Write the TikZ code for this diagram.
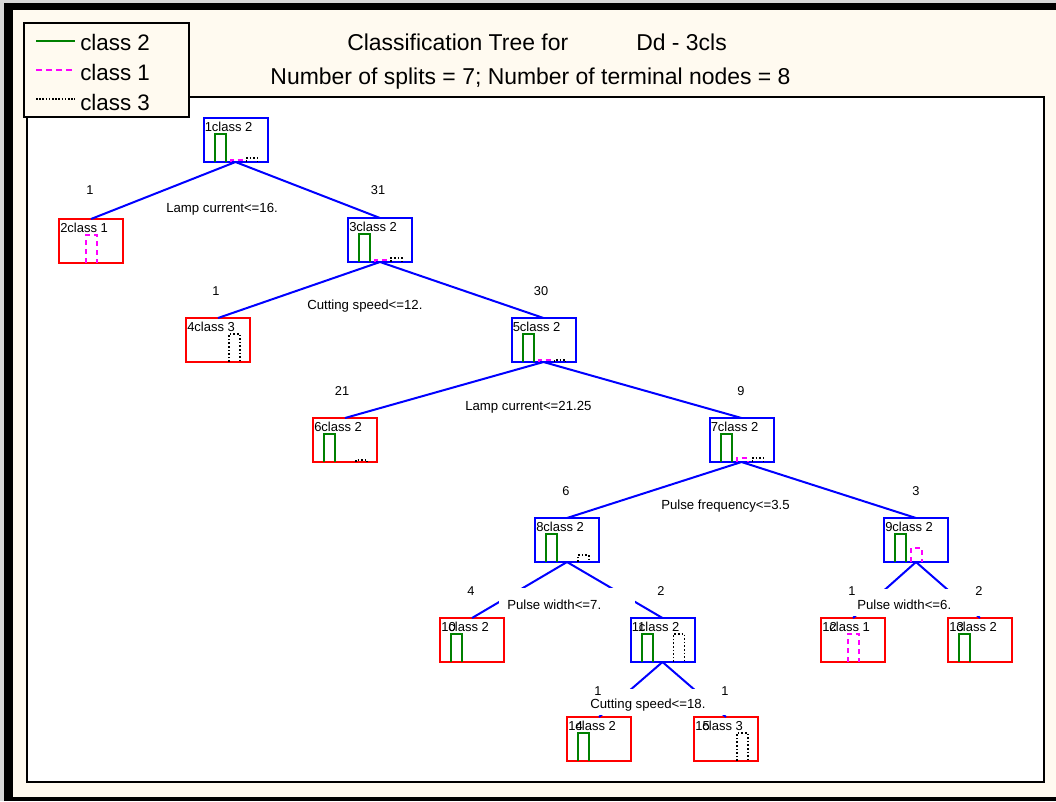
\documentclass[tikz,border=0pt]{standalone}
\usepackage{fontspec}
\setmainfont{Liberation Sans}
\usetikzlibrary{calc}

\definecolor{cream}{RGB}{255,250,240}
\definecolor{frame}{RGB}{215,215,215}
\definecolor{cgreen}{RGB}{0,128,0}
\definecolor{cmag}{RGB}{255,0,255}

\tikzset{
  tbox/.style={draw=#1, line width=1.5pt, minimum width=48pt, minimum height=33pt,
               inner sep=0pt, outer sep=0pt, fill=white},
  numtext/.style={anchor=base west, inner sep=0pt, font=\fontsize{9.75}{11}\selectfont},
  edge/.style={draw=blue, line width=1.5pt},
  bargreen/.style={draw=cgreen, line width=1.5pt},
  barmag/.style={draw=cmag, line width=1.5pt, dash pattern=on 3.75pt off 3pt},
  barblack/.style={draw=black, line width=1.2pt, dash pattern=on 1.2pt off 1.5pt},
  cnt/.style={inner sep=0pt, font=\fontsize{9.6}{10}\selectfont},
  cond/.style={anchor=west, inner sep=0pt, font=\fontsize{9.9}{10}\selectfont},
  legtext/.style={anchor=base west, inner sep=0pt, font=\fontsize{16.8}{18}\selectfont},
  titletext/.style={inner sep=0pt, font=\fontsize{17.2}{18}\selectfont},
}

% tree node: name, centre x, top y, colour, number, class, bar heights (class 2, class 1, class 3)
\newcommand\treenode[9]{%
  \node[tbox=#4] (#1) at (#2,#3+22) {};
  \node[numtext] (#1-num) at ($(#1.north west)+(1,13.5)$) {#5};
  \node[numtext] (#1-cls) at ($(#1.north west)+(8.2,13.5)$) {#6};
  \ifnum#7>0 \draw[bargreen] ($(#1.south west)+(11,0)$) -- ++(0,-#7) -- ++(11,0) -- ++(0,#7);\fi
  \ifnum#8>0 \draw[barmag] ($(#1.south west)+(27,0)$) -- ++(0,-#8) -- ++(11,0) -- ++(0,#8);\fi
  \ifnum#9>0 \draw[barblack] ($(#1.south west)+(43,0)$) -- ++(0,-#9) -- ++(11,0) -- ++(0,#9);\fi
}

\begin{document}
\begin{tikzpicture}[x=0.75pt,y=-0.75pt]
  % window frame and panels
  \useasboundingbox (0,0) rectangle (1056,801);
  \fill[frame] (0,0) rectangle (1056,801);
  \fill[black] (4,3) rectangle (1056,801);
  \fill[cream] (13,10) rectangle (1056,797);
  \draw[fill=white, line width=1.5pt] (27,97) rectangle (1044,782);

  % title
  \node[titletext, anchor=base west] (title-a) at (347,50) {Classification Tree for};
  \node[titletext, anchor=base west] (title-b) at (636,50) {Dd - 3cls};
  \node[titletext, anchor=base] (title-c) at (530.5,84)
    {Number of splits = 7; Number of terminal nodes = 8};

  % legend
  \draw[fill=cream, line width=1.5pt] (24,23) rectangle (189,117);
  \coordinate (lg1a) at (36,41);  \coordinate (lg1b) at (75,41);
  \coordinate (lg2a) at (36,70);  \coordinate (lg2b) at (75,70);
  \coordinate (lg3a) at (36,99);  \coordinate (lg3b) at (75,99);
  \draw[cgreen, line width=1.5pt] (lg1a) -- (lg1b);
  \draw[cmag, line width=1.5pt, dash pattern=on 4.5pt off 3pt] (lg2a) -- (lg2b);
  \draw[black, line width=0.9pt, dash pattern=on 1.2pt off 1.2pt] (lg3a) -- (lg3b);
  \node[legtext] (leg1) at (80,50) {class 2};
  \node[legtext] (leg2) at (80,80) {class 1};
  \node[legtext] (leg3) at (80,110) {class 3};

  % nodes
  \treenode{n1}{235.5}{118}{blue}{1}{class 2}{28}{2}{4}
  \treenode{n2}{91}{219}{red}{2}{class 1}{0}{28}{0}
  \treenode{n3}{380}{218}{blue}{3}{class 2}{28}{2}{4}
  \treenode{n4}{218}{318}{red}{4}{class 3}{0}{0}{28}
  \treenode{n5}{543.5}{318}{blue}{5}{class 2}{28}{2}{2}
  \treenode{n6}{345}{418}{red}{6}{class 2}{28}{0}{2}
  \treenode{n7}{741.5}{418}{blue}{7}{class 2}{28}{4}{4}
  \treenode{n8}{567}{518}{blue}{8}{class 2}{28}{0}{7}
  \treenode{n9}{916}{518}{blue}{9}{class 2}{28}{14}{0}
  \treenode{n10}{472}{618}{red}{10}{class 2}{28}{0}{0}
  \treenode{n11}{662.5}{618}{blue}{11}{class 2}{28}{0}{28}
  \treenode{n12}{853}{618}{red}{12}{class 1}{0}{28}{0}
  \treenode{n13}{980}{618}{red}{13}{class 2}{28}{0}{0}
  \treenode{n14}{599}{717}{red}{14}{class 2}{28}{0}{0}
  \treenode{n15}{726}{717}{red}{15}{class 3}{0}{0}{28}

  % branches
  \draw[edge] (n1.south) -- (n2.north);
  \draw[edge] (n1.south) -- (n3.north);
  \draw[edge] (n3.south) -- (n4.north);
  \draw[edge] (n3.south) -- (n5.north);
  \draw[edge] (n5.south) -- (n6.north);
  \draw[edge] (n5.south) -- (n7.north);
  \draw[edge] (n7.south) -- (n8.north);
  \draw[edge] (n7.south) -- (n9.north);
  \draw[edge] (n8.south) -- (n10.north);
  \draw[edge] (n8.south) -- (n11.north);
  \draw[edge] (n9.south) -- (n12.north);
  \draw[edge] (n9.south) -- (n13.north);
  \draw[edge] (n11.south) -- (n14.north);
  \draw[edge] (n11.south) -- (n15.north);

  % split conditions on white plates
  \fill[white] (168.5,190) rectangle (302.5,217);
  \fill[white] (313,289) rectangle (447,316);
  \fill[white] (476.5,389) rectangle (610.5,416);
  \fill[white] (674.5,489) rectangle (808.5,516);
  \fill[white] (499,588) rectangle (635,615);
  \fill[white] (849,589) rectangle (983,616);
  \fill[white] (595.5,689) rectangle (729.5,715);
  \node[cond] (c1) at (166,209) {Lamp current<=16.};
  \node[cond] (c3) at (307,306) {Cutting speed<=12.};
  \node[cond] (c5) at (465,407) {Lamp current<=21.25};
  \node[cond] (c7) at (661,506) {Pulse frequency<=3.5};
  \node[cond] (c8) at (507,605) {Pulse width<=7.};
  \node[cond] (c9) at (857,605) {Pulse width<=6.};
  \node[cond] (c11) at (590,705) {Cutting speed<=18.};

  % sample counts
  \node[cnt] (k2) at (90,190) {1};
  \node[cnt] (k3) at (378,190) {31};
  \node[cnt] (k4) at (216,291) {1};
  \node[cnt] (k5) at (541,291) {30};
  \node[cnt] (k6) at (342,391) {21};
  \node[cnt] (k7) at (741,391) {9};
  \node[cnt] (k8) at (566,491) {6};
  \node[cnt] (k9) at (916,491) {3};
  \node[cnt] (k10) at (471,591) {4};
  \node[cnt] (k11) at (661,591) {2};
  \node[cnt] (k12) at (852,591) {1};
  \node[cnt] (k13) at (979,591) {2};
  \node[cnt] (k14) at (598,691) {1};
  \node[cnt] (k15) at (725,691) {1};
\end{tikzpicture}
\end{document}
